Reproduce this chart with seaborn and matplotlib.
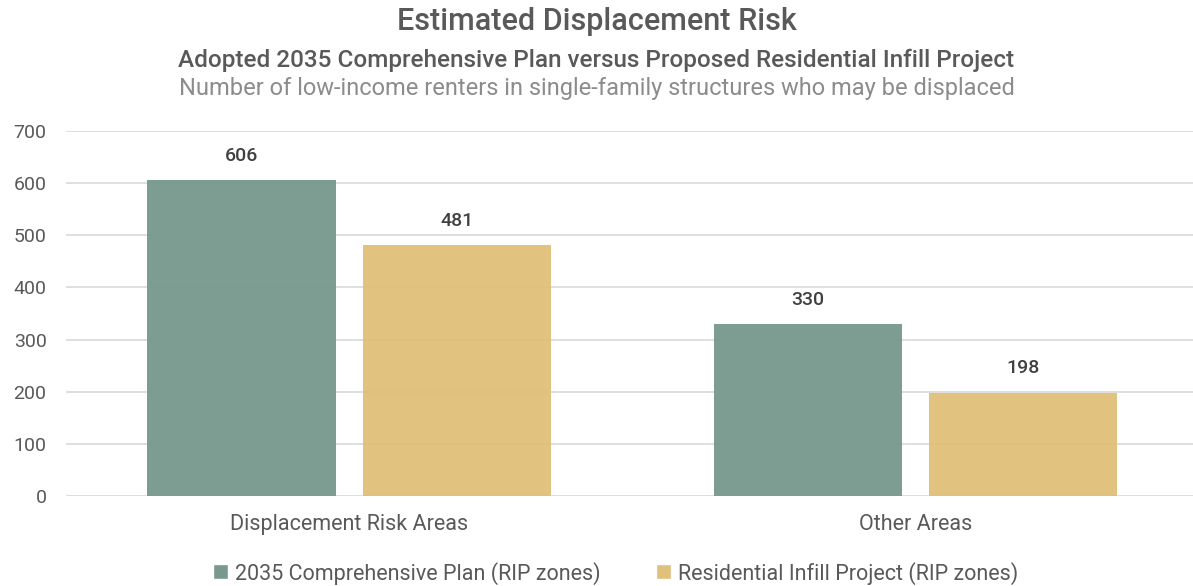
import matplotlib
matplotlib.use('Agg')
import matplotlib.pyplot as plt
import seaborn as sns
import pandas as pd
from matplotlib.patches import Patch

areas = ['Displacement Risk Areas', 'Displacement Risk Areas', 'Other Areas', 'Other Areas']
scenarios = ['2035 Comprehensive Plan (RIP zones)', 'Residential Infill Project (RIP zones)',
             '2035 Comprehensive Plan (RIP zones)', 'Residential Infill Project (RIP zones)']
renters = [606, 481, 330, 198]
scenario_order = ['2035 Comprehensive Plan (RIP zones)', 'Residential Infill Project (RIP zones)']
colors = ['#79998f', '#e0c07b']

df = pd.DataFrame({'area': areas, 'scenario': scenarios, 'renters': renters})

sns.set_style('white')
plt.rcParams['font.family'] = ['Roboto', 'DejaVu Sans']
text_color = '#595959'

fig = plt.figure(figsize=(11.93, 5.86), dpi=100)
ax = fig.add_axes([0.0553, 0.1536, 0.9447, 0.6229])

sns.barplot(data=df, x='area', y='renters', hue='scenario', hue_order=scenario_order,
            palette=colors, width=0.76, gap=0.125, saturation=1, ax=ax, legend=False,
            edgecolor='none', linewidth=0, alpha=0.97, zorder=2)

for container in ax.containers:
    ax.bar_label(container, fmt='%d', padding=11, fontsize=14, color='#404040',
                 fontweight='medium')

ax.set_ylim(0, 700)
ax.set_xlim(-0.5, 1.49)
ax.set_yticks(range(0, 701, 100))
ax.yaxis.grid(True, color='#d9d9d9', linewidth=1.2, zorder=0)
ax.set_axisbelow(True)
for s in ax.spines.values():
    s.set_visible(False)
ax.set_xlabel('')
ax.set_ylabel('')
ax.tick_params(axis='y', labelsize=14, labelcolor=text_color, length=0, pad=14)
ax.tick_params(axis='x', labelsize=15.5, labelcolor=text_color, length=0, pad=13)

fig.text(0.5, 0.963, 'Estimated Displacement Risk', ha='center', va='center',
         fontsize=22, color=text_color, fontweight='medium')
fig.text(0.5, 0.897, 'Adopted 2035 Comprehensive Plan versus Proposed Residential Infill Project',
         ha='center', va='center', fontsize=17.5, color=text_color, fontweight='medium')
fig.text(0.5, 0.849, 'Number of low-income renters in single-family structures who may be displaced',
         ha='center', va='center', fontsize=17, color='#8c8c8c')

handles = [Patch(facecolor=c, label=l) for c, l in zip(colors, scenario_order)]
fig.legend(handles=handles, loc='center', bbox_to_anchor=(0.516, 0.022), ncol=2, frameon=False,
           fontsize=15.5, labelcolor=text_color, handlelength=0.7, handleheight=0.7,
           handletextpad=0.3, columnspacing=2.6)

fig.savefig('out.png', dpi=100)
